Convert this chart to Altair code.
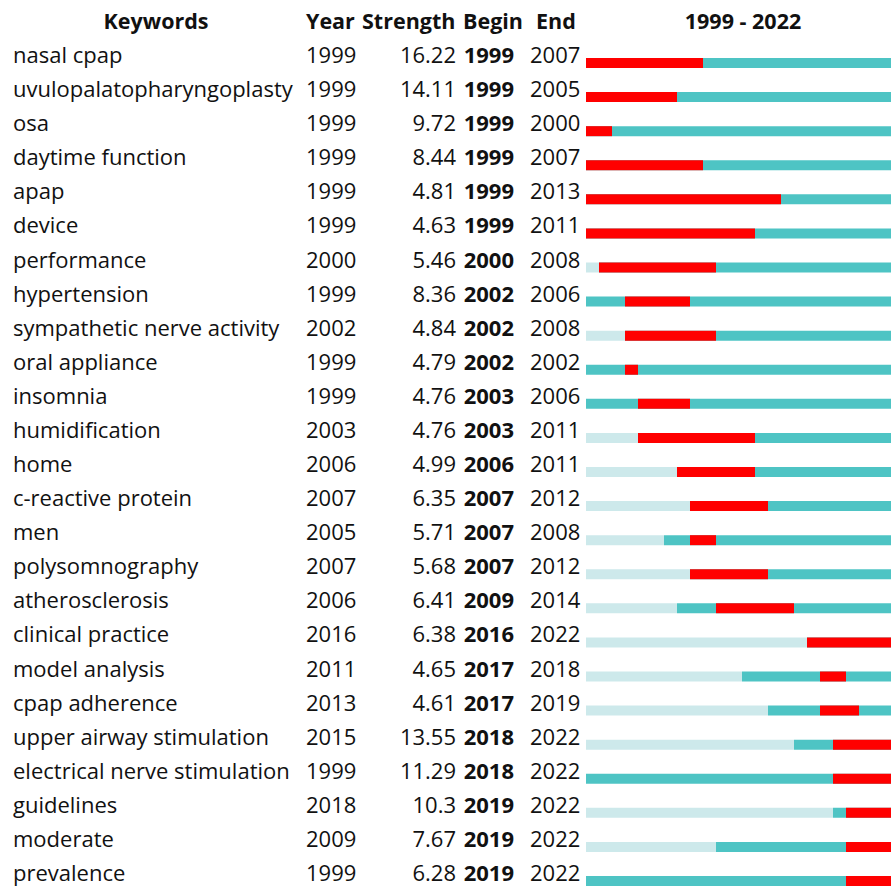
import altair as alt
import pandas as pd

# Citation-burst table: keyword, first year seen, burst strength, burst begin/end
keywords = [
    "nasal cpap", "uvulopalatopharyngoplasty", "osa", "daytime function", "apap",
    "device", "performance", "hypertension", "sympathetic nerve activity",
    "oral appliance", "insomnia", "humidification", "home", "c-reactive protein",
    "men", "polysomnography", "atherosclerosis", "clinical practice",
    "model analysis", "cpap adherence", "upper airway stimulation",
    "electrical nerve stimulation", "guidelines", "moderate", "prevalence",
]
years = [1999, 1999, 1999, 1999, 1999, 1999, 2000, 1999, 2002, 1999, 1999, 2003,
         2006, 2007, 2005, 2007, 2006, 2016, 2011, 2013, 2015, 1999, 2018, 2009, 1999]
strengths = ["16.22", "14.11", "9.72", "8.44", "4.81", "4.63", "5.46", "8.36", "4.84",
             "4.79", "4.76", "4.76", "4.99", "6.35", "5.71", "5.68", "6.41", "6.38",
             "4.65", "4.61", "13.55", "11.29", "10.3", "7.67", "6.28"]
begins = [1999, 1999, 1999, 1999, 1999, 1999, 2000, 2002, 2002, 2002, 2003, 2003,
          2006, 2007, 2007, 2007, 2009, 2016, 2017, 2017, 2018, 2018, 2019, 2019, 2019]
ends = [2007, 2005, 2000, 2007, 2013, 2011, 2008, 2006, 2008, 2002, 2006, 2011,
        2011, 2012, 2008, 2012, 2014, 2022, 2018, 2019, 2022, 2022, 2022, 2022, 2022]

FIRST_YEAR, LAST_YEAR = 1999, 2022

table = pd.DataFrame({
    "keyword": keywords,
    "year": [str(y) for y in years],
    "strength": strengths,
    "begin": [str(b) for b in begins],
    "end": [str(e) for e in ends],
})

# Timeline segments: before first appearance, after it, and the burst itself
rows = []
for k, y, b, e in zip(keywords, years, begins, ends):
    if y > FIRST_YEAR:
        rows.append({"keyword": k, "start": FIRST_YEAR, "stop": y, "kind": "absent", "order": 0})
    rows.append({"keyword": k, "start": y, "stop": LAST_YEAR + 1, "kind": "present", "order": 1})
    rows.append({"keyword": k, "start": b, "stop": e + 1, "kind": "burst", "order": 2})
segments = pd.DataFrame(rows)

FONT = "Open Sans"
FS = 22
HFS = 21.5
y_enc = alt.Y("keyword:N", sort=keywords, axis=None,
              scale=alt.Scale(type="point", range=[63, 881], padding=0))

bars = alt.Chart(segments).mark_rule(strokeWidth=10, strokeCap="butt", clip=True).encode(
    x=alt.X("start:Q", axis=None, scale=alt.Scale(domain=[FIRST_YEAR, LAST_YEAR + 1], range=[586, 898])),
    x2="stop:Q",
    y=y_enc,
    color=alt.Color("kind:N", legend=None,
                    scale=alt.Scale(domain=["absent", "present", "burst"],
                                    range=["#CDE9EB", "#4EC4C4", "#FF0000"])),
    order="order:Q",
)


def column(field, x, align="left", bold=False):
    return alt.Chart(table).mark_text(
        align=align, baseline="alphabetic", font=FONT, fontSize=FS,
        fontWeight="bold" if bold else "normal", color="#111111",
    ).encode(x=alt.value(x), y=y_enc, text=f"{field}:N")


def header(label, x, align="center"):
    return alt.Chart(alt.Data(values=[{}])).mark_text(
        align=align, baseline="alphabetic", font=FONT, fontSize=HFS,
        fontWeight="bold", color="#111111",
    ).encode(x=alt.value(x), y=alt.value(29), text=alt.value(label))


chart = alt.layer(
    bars,
    column("keyword", 13),
    column("year", 306),
    column("strength", 456, align="right"),
    column("begin", 514, align="right", bold=True),
    column("end", 530),
    header("Keywords", 156),
    header("Year", 306, align="left"),
    header("Strength", 362, align="left"),
    header("Begin", 463, align="left"),
    header("End", 536, align="left"),
    header(f"{FIRST_YEAR} - {LAST_YEAR}", 743),
).properties(
    width=891, height=886, padding=0, autosize=alt.AutoSizeParams(type="none"),
).configure_view(stroke=None)

chart.save("out.html", embed_options={"renderer": "svg", "actions": False})
